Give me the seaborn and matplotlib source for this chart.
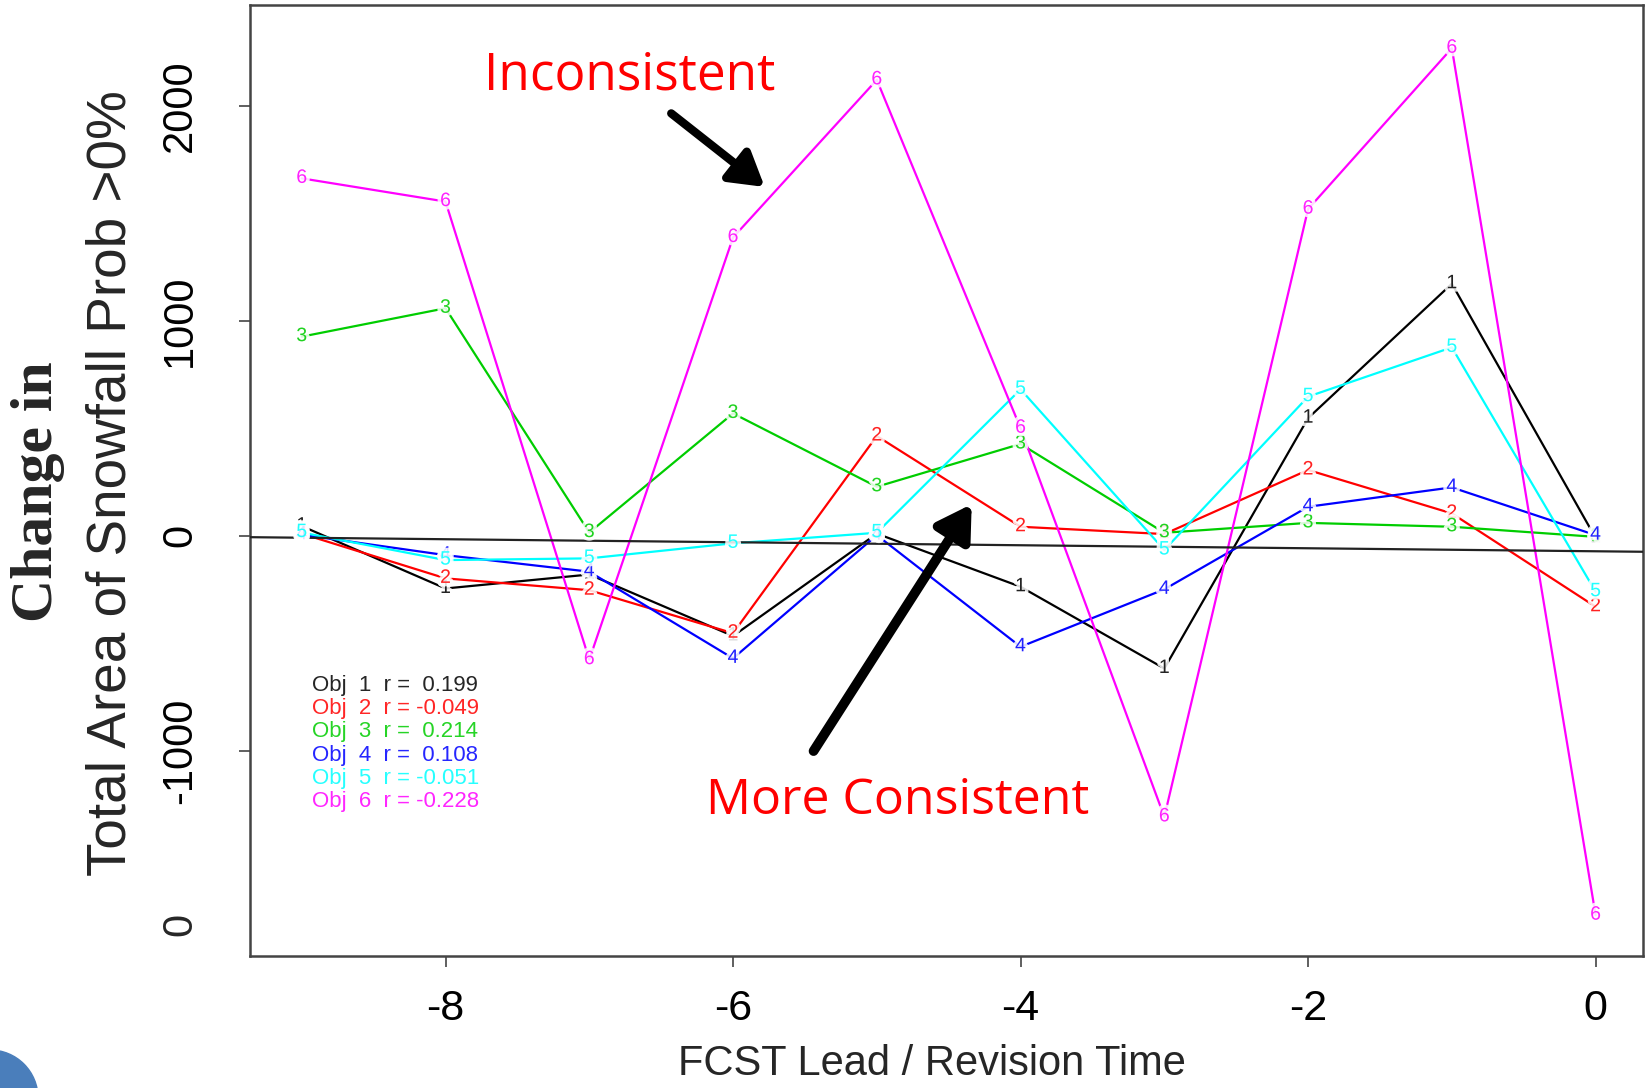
import numpy as np
import pandas as pd
import matplotlib
matplotlib.use("Agg")
import matplotlib.pyplot as plt
import matplotlib.patheffects as pe
from matplotlib.patches import Circle
from matplotlib.transforms import IdentityTransform
import seaborn as sns

# ---- data ----
lead = [-9, -8, -7, -6, -5, -4, -3, -2, -1, 0]
obj1 = [45, -245, -180, -466, 10, -237, -617, 547, 1172, -10]
obj2 = [10, -198, -253, -453, 464, 42, 8, 306, 104, -330]
obj3 = [926, 1058, 15, 569, 228, 427, 14, 60, 42, -5]
obj4 = [5, -90, -167, -570, 3, -516, -249, 135, 225, 3]
obj5 = [15, -113, -105, -35, 14, 681, -66, 647, 876, -260]
obj6 = [1662, 1554, -576, 1387, 2120, 500, -1307, 1519, 2267, -1764]
obj_names = ["1", "2", "3", "4", "5", "6"]
r_values = ["0.199", "-0.049", "0.214", "0.108", "-0.051", "-0.228"]
colors = ["#000000", "#FF0000", "#00CD00", "#0000FF", "#00FFFF", "#FF00FF"]
fit_intercept = -72
fit_slope = -7
y_ticks = [-1000, 0, 1000, 2000]
x_ticks = [-8, -6, -4, -2, 0]

series = [obj1, obj2, obj3, obj4, obj5, obj6]
df = pd.concat([pd.DataFrame({"lead": lead, "value": s, "obj": n})
                for s, n in zip(series, obj_names)], ignore_index=True)

sns.set_theme(style="white")
plt.rcParams["font.family"] = ["Liberation Sans", "DejaVu Sans"]
narrow = ["Liberation Sans", "DejaVu Sans"]

fig = plt.figure(figsize=(16.47, 10.88), dpi=100)
ax = fig.add_axes([0.1518, 0.1213, 0.9976 - 0.1518, 0.9952 - 0.1213])

sns.lineplot(data=df, x="lead", y="value", hue="obj", palette=colors,
             estimator=None, sort=True, legend=False, linewidth=1.6, ax=ax)

# point digits (R type="b")
for s, n, c in zip(series, obj_names, colors):
    for xv, yv in zip(lead, s):
        ax.text(xv, yv, n, color=c, fontsize=14, ha="center", va="center",
                family=["Liberation Sans", "DejaVu Sans"], alpha=0.85,
                path_effects=[pe.withStroke(linewidth=5, foreground="white")], zorder=5)

# fitted line
ax.axline((0, fit_intercept), slope=fit_slope, color="#222222", lw=1.6, zorder=3)

ax.set_xlim(-9.36, 0.33)
ax.set_ylim(-1954, 2467)
ax.set_xticks(x_ticks)
ax.set_yticks(y_ticks)
ax.set_xticklabels([str(v) for v in x_ticks], family=narrow, fontsize=31)
ax.set_yticklabels([str(v) for v in y_ticks], family=narrow, fontsize=30,
                   rotation=90, va="center")
ax.set_yticks([-1805], labels=["0"], minor=True)
for t in ax.get_yticklabels(minor=True):
    t.set_family(narrow); t.set_fontsize(30); t.set_rotation(90); t.set_va("center")
ax.tick_params(axis="both", which="major", direction="out", length=8, width=1.2,
               color="#444444", labelcolor="black", left=True, bottom=True)
ax.tick_params(axis="x", which="major", pad=16)
ax.tick_params(axis="y", which="major", pad=28)
ax.tick_params(axis="y", which="minor", length=0, pad=36, left=True)
ax.set_xlabel("")
ax.set_ylabel("")
for sp in ax.spines.values():
    sp.set_color("#444444")
    sp.set_linewidth(1.8)

# legend text block
for i, (n, r, c) in enumerate(zip(obj_names, r_values, colors)):
    sep = "  " if not r.startswith("-") else " "
    ax.text(-8.927, -694 - i * 108.5, f"Obj  {n}  r ={sep}{r}", color=c,
            fontsize=16, ha="left", va="center", alpha=0.85)

# annotations
ax.text(-6.72, 2140, "Inconsistent", color="#FF0000", fontsize=37,
        ha="center", va="center", family=["Open Sans", "DejaVu Sans"])
ax.text(-4.855, -1236, "More Consistent", color="#FF0000", fontsize=36,
        ha="center", va="center", family=["Open Sans", "DejaVu Sans"])
ax.annotate("", xy=(-5.78, 1622), xytext=(-6.43, 1964),
            arrowprops=dict(arrowstyle="-|>,head_length=0.5,head_width=0.3",
                            lw=6, color="black", mutation_scale=40, shrinkA=0, shrinkB=0))
ax.annotate("", xy=(-4.34, 147), xytext=(-5.44, -1001),
            arrowprops=dict(arrowstyle="-|>,head_length=0.5,head_width=0.3",
                            lw=7, color="black", mutation_scale=40, shrinkA=0, shrinkB=0))

# axis titles
fig.text(932 / 1647, 0.0221, "FCST Lead / Revision Time", family=narrow,
         fontsize=30, ha="center", va="center")
fig.text(112 / 1647, 0.556, "Total Area of Snowfall Prob >0%", family=narrow,
         fontsize=39.5, ha="center", va="center", rotation=90)
fig.text(38 / 1647, 0.548, "Change in", family=["Liberation Serif", "DejaVu Serif"],
         fontweight="bold", fontsize=43, ha="center", va="center", rotation=90)

# corner decoration
fig.add_artist(Circle((-10, -10), 48, transform=IdentityTransform(),
                      color="#4A7EBB", zorder=10))

fig.savefig("out.png", dpi=100)
